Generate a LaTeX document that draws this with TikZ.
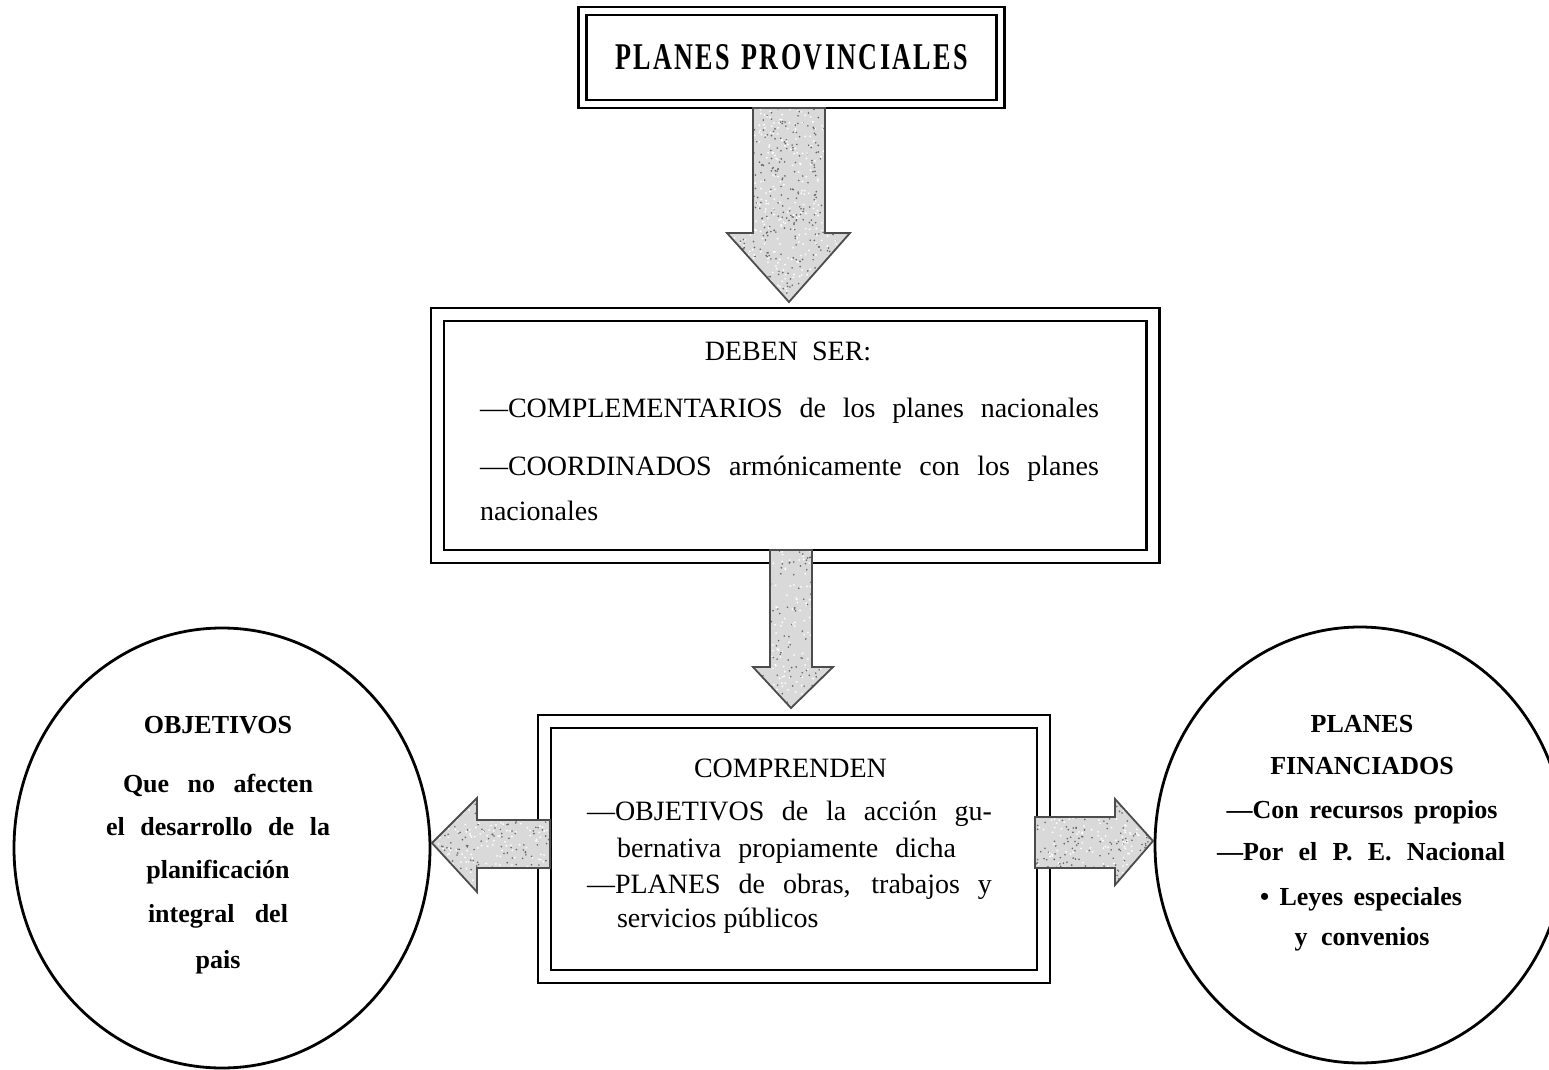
\documentclass[tikz,border=0pt]{standalone}
\usepackage{fontspec}
\setmainfont{Liberation Serif}
\usetikzlibrary{calc,shapes.geometric}
\begin{document}
\begin{tikzpicture}[x=0.5pt,y=-0.5pt,
  dbox/.style={draw, rectangle, line width=1.2pt, double, double distance=#1, inner sep=0pt, outer sep=0pt},
  oval/.style={draw, ellipse, line width=1.4pt, inner sep=0pt, outer sep=0pt},
  boxtxt/.style={inner sep=0pt, outer sep=0pt, font=\fontsize{14}{16}\selectfont},
  ovaltxt/.style={inner sep=0pt, outer sep=0pt, anchor=base, font=\fontsize{13}{16}\selectfont\bfseries},
  bigarrow/.style={fill=gray!30, draw=black!70, line width=0.9pt, line join=miter,
    path picture={
      \foreach \k in {1,...,#1}{
        \fill[black!60] let \p8=(path picture bounding box.south west), \p9=(path picture bounding box.north east) in
          ({\x8+rnd*(\x9-\x8)},{\y8+rnd*(\y9-\y8)}) circle[radius=0.45pt];
        \fill[white] let \p8=(path picture bounding box.south west), \p9=(path picture bounding box.north east) in
          ({\x8+rnd*(\x9-\x8)},{\y8+rnd*(\y9-\y8)}) circle[radius=0.5pt];
      }
    }},
]
\pgfmathsetseed{7}
\useasboundingbox (0,0) rectangle (1549,1070);
\fill[white] (0,0) rectangle (1549,1070);
\clip (0,0) rectangle (1549,1070);

% boxes
\node[dbox=2.8pt, minimum width=209pt, minimum height=46.5pt] (title) at (791.5,57.5)
  {\resizebox{176.5pt}{12.5pt}{\bfseries\addfontfeatures{LetterSpace=9}PLANES\hspace{0.45em}PROVINCIALES}};
\node[dbox=5.3pt, minimum width=357.75pt, minimum height=121pt] (mid) at (795.25,435.5) {};
\node[dbox=5.5pt, minimum width=249.5pt, minimum height=127.5pt] (comp) at (794,849) {};
\node[oval, minimum width=208pt, minimum height=220pt] (obj) at (222,848) {};
\node[oval, minimum width=205pt, minimum height=218pt] (fin) at (1360,845) {};

% texts in the middle box
\node[boxtxt, anchor=base] (deben) at (788,360) {DEBEN\hspace{0.5em}SER:};
\node[boxtxt, anchor=base west] (m1) at (480,417) {\makebox[309.5pt][s]{—COMPLEMENTARIOS de los planes nacionales}};
\node[boxtxt, anchor=base west] (m2) at (480,475) {\makebox[309.5pt][s]{—COORDINADOS armónicamente con los planes}};
\node[boxtxt, anchor=base west] (m3) at (480,520) {nacionales};

% texts in the lower box
\node[boxtxt, anchor=base] (compt) at (790.5,777) {COMPRENDEN};
\node[boxtxt, anchor=base west] (c1) at (587,820) {\makebox[202.5pt][s]{—OBJETIVOS de la acción gu-}};
\node[boxtxt, anchor=base west] (c2) at (617,857) {\makebox[169.5pt][s]{bernativa propiamente dicha}};
\node[boxtxt, anchor=base west] (c3) at (587,893) {\makebox[202.5pt][s]{—PLANES de obras, trabajos y}};
\node[boxtxt, anchor=base west] (c4) at (617,927) {servicios públicos};

% texts in the left oval
\node[ovaltxt] (o1) at (218,733) {OBJETIVOS};
\node[ovaltxt] (o2) at (218,792) {\makebox[95pt][s]{Que no afecten}};
\node[ovaltxt] (o3) at (218,835) {\makebox[112pt][s]{el desarrollo de la}};
\node[ovaltxt] (o4) at (218,878) {planificación};
\node[ovaltxt] (o5) at (218,922) {\makebox[70pt][s]{integral del}};
\node[ovaltxt] (o6) at (218,968) {pais};

% texts in the right oval
\node[ovaltxt] (f1) at (1362,732) {PLANES};
\node[ovaltxt] (f2) at (1362,774) {FINANCIADOS};
\node[ovaltxt] (f3) at (1362,818) {\makebox[135.5pt][s]{—Con recursos propios}};
\node[ovaltxt] (f4) at (1361,860) {\makebox[144pt][s]{—Por el P. E. Nacional}};
\node[ovaltxt] (f5) at (1361,905) {\makebox[101pt][s]{\textbullet\ Leyes especiales}};
\node[ovaltxt] (f6) at (1362,945) {\makebox[67.5pt][s]{y convenios}};

% block arrows
\draw[bigarrow=420] let \p1=(title.south), \p2=(mid.north) in
  (\x1-19.25pt,\y1-2pt) -- (\x1+16.75pt,\y1-2pt) -- (\x1+16.75pt,\y2+40.75pt)
  -- (\x1+29.25pt,\y2+40.75pt) -- (\x1-1.25pt,\y2+6.25pt) -- (\x1-32.25pt,\y2+40.75pt)
  -- (\x1-19.25pt,\y2+40.75pt) -- cycle;
\draw[bigarrow=140] let \p1=(mid.south), \p2=(comp.north) in
  (\x1-12.625pt,\y1+3.25pt) -- (\x1+8.375pt,\y1+3.25pt) -- (\x1+8.375pt,\y2+27.25pt)
  -- (\x1+18.875pt,\y2+27.25pt) -- (\x1-2.125pt,\y2+6.75pt) -- (\x1-21.125pt,\y2+27.25pt)
  -- (\x1-12.625pt,\y2+27.25pt) -- cycle;
\draw[bigarrow=170] let \p1=(comp.west), \p2=(obj.east) in
  (\x1+2.75pt,\y1+14.5pt) -- (\x2+23.5pt,\y1+14.5pt) -- (\x2+23.5pt,\y1+25.5pt)
  -- (\x2+1pt,\y1+3pt) -- (\x2+23.5pt,\y1-21.5pt) -- (\x2+23.5pt,\y1-9.5pt)
  -- (\x1+2.75pt,\y1-9.5pt) -- cycle;
\draw[bigarrow=170] let \p1=(comp.east), \p2=(fin.west) in
  (\x1-4.25pt,\y1+16pt) -- (\x2-20pt,\y1+16pt) -- (\x2-20pt,\y1+25pt)
  -- (\x2-1pt,\y1+4pt) -- (\x2-20pt,\y1-18pt) -- (\x2-20pt,\y1-9.5pt)
  -- (\x1-4.25pt,\y1-9.5pt) -- cycle;
\end{tikzpicture}
\end{document}
